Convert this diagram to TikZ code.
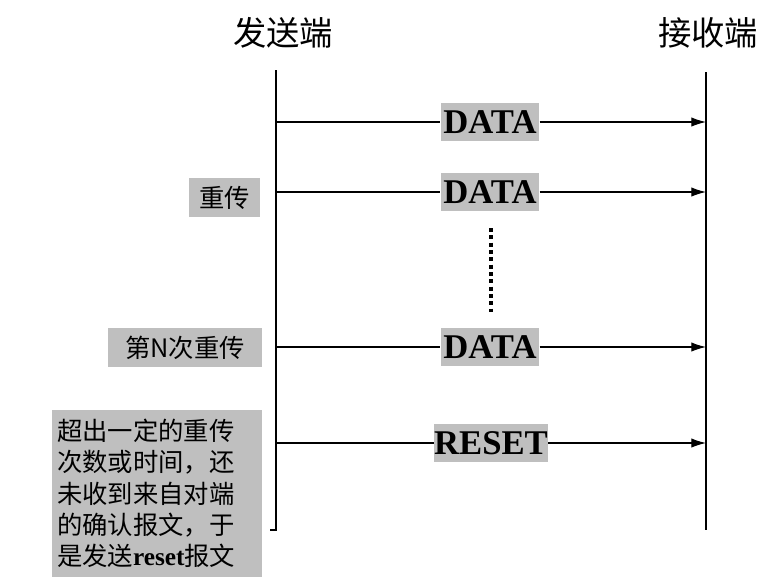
\documentclass[tikz,border=0pt]{standalone}
\usepackage{fontspec}
\setmainfont{Liberation Serif}
\newfontfamily\cjk{Noto Sans CJK SC}
\begin{document}
\begin{tikzpicture}[x=0.75pt,y=-0.75pt,
  msg/.style={fill=black!25,inner sep=0pt,minimum height=28pt,font=\bfseries\fontsize{26}{26}\selectfont},
  note/.style={fill=black!25,inner sep=2pt,font=\cjk\fontsize{19}{23.5}\selectfont,align=left},
  arr/.style={-{Latex[length=11pt,width=7pt]},line width=0.8pt}]
\usetikzlibrary{arrows.meta}
\useasboundingbox (0,0) rectangle (773,587);
\node[font=\cjk\fontsize{25}{25}\selectfont] (s) at (283,33) {发送端};
\node[font=\cjk\fontsize{25}{25}\selectfont] (r) at (708,33) {接收端};
\coordinate (st) at (276,70); \coordinate (sb) at (276,530);
\coordinate (rt) at (706,72); \coordinate (rb) at (706,530);
\draw[line width=0.8pt] (st) -- (sb) -- ++(-6,0);
\draw[line width=0.8pt] (rt) -- (rb);
\foreach \y/\n in {122/a,192/b,347/c}{
  \coordinate (l\n) at (276,\y); \coordinate (e\n) at (706,\y);
  \node[msg,minimum width=74pt] (m\n) at (490,\y) {DATA};
  \draw[line width=0.8pt] (l\n) -- (m\n.west);
  \draw[arr] (m\n.east) -- (e\n);
}
\coordinate (ld) at (276,443); \coordinate (ed) at (706,443);
\node[msg,minimum width=85pt] (md) at (491,443) {RESET};
\draw[line width=0.8pt] (ld) -- (md.west);
\draw[arr] (md.east) -- (ed);
\coordinate (d1) at (491,228); \coordinate (d2) at (491,312);
\draw[line width=3pt,dash pattern=on 3pt off 2.5pt] (d1) -- (d2);
\node[note,minimum width=53pt,minimum height=29pt] (n1) at (224.5,197.5) {重传};
\node[note,minimum width=115pt,minimum height=29pt] (n2) at (185,347.5) {第N次重传};
\node[note,minimum width=157pt,minimum height=125pt,text width=150pt] (n3) at (157,493.5)
 {超出一定的重传\\次数或时间，还\\未收到来自对端\\的确认报文，于\\是发送{\rmfamily\bfseries reset}报文};
\end{tikzpicture}
\end{document}
